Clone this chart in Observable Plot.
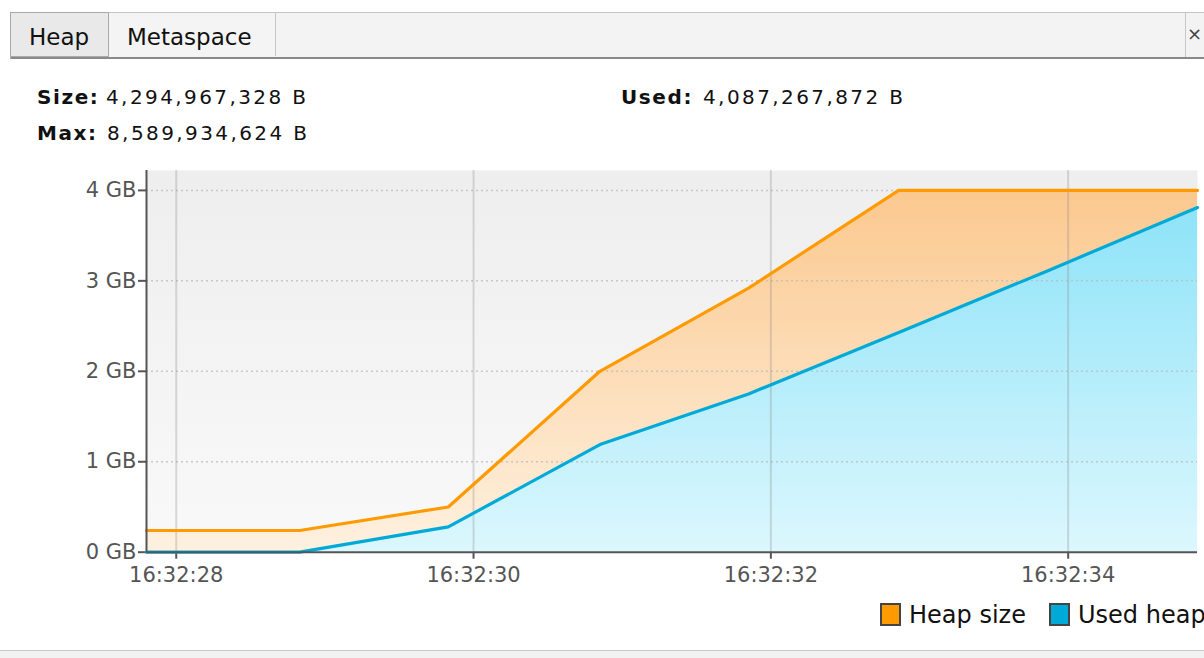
<!DOCTYPE html>
<html>
<head>
<meta charset="utf-8">
<script src="https://cdn.jsdelivr.net/npm/d3@7"></script>
<script src="https://cdn.jsdelivr.net/npm/@observablehq/plot@0.6"></script>
<style>
  html, body { margin: 0; padding: 0; background: #fff; }
  body { width: 1204px; height: 658px; overflow: hidden; position: relative; font-family: "DejaVu Sans", sans-serif; }
  .abs { position: absolute; white-space: nowrap; }
  .tabbar { left: 10px; top: 12px; width: 1194px; height: 44px; background: #f3f3f3; border-top: 1px solid #c6c6c6; border-left: 1px solid #c6c6c6; border-bottom: 2px solid #8a8a8a; box-sizing: content-box; }
  .tab { top: 12px; height: 45px; box-sizing: border-box; }
  .tabtext { font-size: 23px; line-height: 23px; color: #111; }
  .stat { font-size: 20px; line-height: 20px; color: #111; }
  .stat b { letter-spacing: 1.6px; }
  .val { letter-spacing: 2.4px; }
  .legtext { font-size: 24px; line-height: 24px; color: #111; }
  .sw { width: 17px; height: 19px; border: 2px solid #444; box-sizing: content-box; }
  #chart { position: absolute; left: 0; top: 160px; }
  g[aria-label$="-axis tick"] path { stroke-width: 2px; }
  .tick line { stroke-width: 2px; }
</style>
</head>
<body>
<div class="abs tabbar"></div>
<div class="abs tab" style="left:10px;width:99px;background:#e9e9e9;border:1px solid #a9a9a9;border-bottom:1px solid #a9a9a9;"></div>
<div class="abs tab" style="left:109px;width:167px;background:#f4f4f4;border-right:1px solid #c6c6c6;border-top:1px solid #c6c6c6;height:44px;"></div>
<div class="abs tabtext" style="left:29px;top:25.5px;">Heap</div>
<div class="abs tabtext" style="left:127px;top:25.5px;">Metaspace</div>
<div class="abs" style="left:1185px;top:13px;width:1px;height:44px;background:#c6c6c6;"></div>
<div class="abs" style="left:1187px;top:25px;font-size:18px;line-height:18px;color:#444;">×</div>

<div class="abs stat" style="left:37px;top:87px;"><b>Size:</b></div>
<div class="abs stat val" style="left:106px;top:87px;">4,294,967,328 B</div>
<div class="abs stat" style="left:37px;top:123.4px;"><b>Max:</b></div>
<div class="abs stat val" style="left:107px;top:123.4px;">8,589,934,624 B</div>
<div class="abs stat" style="left:621px;top:87px;"><b>Used:</b></div>
<div class="abs stat val" style="left:703px;top:87px;">4,087,267,872 B</div>

<div id="chart"></div>

<div class="abs sw" style="left:880px;top:603px;background:#ff9a00;"></div>
<div class="abs legtext" style="left:909px;top:602.5px;">Heap size</div>
<div class="abs sw" style="left:1049px;top:603px;background:#00aad8;"></div>
<div class="abs legtext" style="left:1078px;top:602.5px;">Used heap</div>

<div class="abs" style="left:0;top:650px;width:1204px;height:8px;background:#f2f2f2;border-top:1px solid #c8c8c8;"></div>

<script>
// ---- data ----
const secondsAfter1632 = [27.8, 28.83, 29.83, 30.85, 31.85, 32.86, 33.86, 34.87];
const heapSizeGB = [0.24, 0.24, 0.5, 2.0, 2.92, 4.0, 4.0, 4.0];
const usedHeapGB = [0.0, 0.0, 0.28, 1.19, 1.75, 2.43, 3.11, 3.81];
const yTicksGB = [0, 1, 2, 3, 4];
const xTickSeconds = [28, 30, 32, 34];

const toDate = s => new Date(Date.UTC(2024, 0, 1, 16, 32, 0) + Math.round(s * 1000));
const data = secondsAfter1632.map((s, i) => ({t: toDate(s), heap: heapSizeGB[i], used: usedHeapGB[i]}));
const xTicks = xTickSeconds.map(toDate);

const W = 1204, H = 440, mt = 10, mb = 48.3, ml = 146, mr = 7;

const chartSvg = Plot.plot({
  width: W, height: H,
  marginTop: mt, marginBottom: mb, marginLeft: ml, marginRight: mr,
  style: {fontFamily: "DejaVu Sans, sans-serif", fontSize: "21px", color: "#555", background: "transparent", overflow: "visible"},
  x: {type: "utc", domain: [data[0].t, data[data.length - 1].t], ticks: xTicks, tickFormat: d3.utcFormat("%H:%M:%S"), tickSize: 7, tickPadding: 8, label: null},
  y: {domain: [0, 4.22], ticks: yTicksGB, tickFormat: d => `${d} GB`, tickSize: 8, tickPadding: 2, label: null},
  marks: [
    Plot.frame({fill: "url(#bgGrad)", stroke: null}),
    Plot.areaY(data, {x: "t", y: "heap", fill: "url(#orangeGrad)"}),
    Plot.areaY(data, {x: "t", y: "used", fill: "url(#blueGrad)"}),
    Plot.ruleY(yTicksGB.filter(d => d > 0), {stroke: "#bdbdbd", strokeWidth: 1.5, strokeDasharray: "2,3", strokeOpacity: 0.8}),
    Plot.ruleX(xTicks, {stroke: "#8a8a8a", strokeWidth: 2, strokeOpacity: 0.3}),
    Plot.lineY(data, {x: "t", y: "heap", stroke: "#ff9a00", strokeWidth: 3.2}),
    Plot.lineY(data, {x: "t", y: "used", stroke: "#00aad8", strokeWidth: 3.2}),
    Plot.ruleX([data[0].t], {stroke: "#555", strokeWidth: 2}),
    Plot.ruleY([0], {stroke: "#555", strokeWidth: 2})
  ]
});

const gTop = mt, gBottom = H - mb;
const defs = d3.select(chartSvg).insert("defs", ":first-child");
function grad(id, c0, c1) {
  const g = defs.append("linearGradient").attr("id", id)
    .attr("gradientUnits", "userSpaceOnUse").attr("x1", 0).attr("x2", 0).attr("y1", gTop).attr("y2", gBottom);
  g.append("stop").attr("offset", "0%").attr("stop-color", c0);
  g.append("stop").attr("offset", "100%").attr("stop-color", c1);
}
grad("bgGrad", "#eeeeee", "#f9f9f9");
grad("orangeGrad", "#fbc68a", "#fef1e0");
grad("blueGrad", "#86e1f8", "#dcf7fd");

document.getElementById("chart").appendChild(chartSvg);
</script>
</body>
</html>
